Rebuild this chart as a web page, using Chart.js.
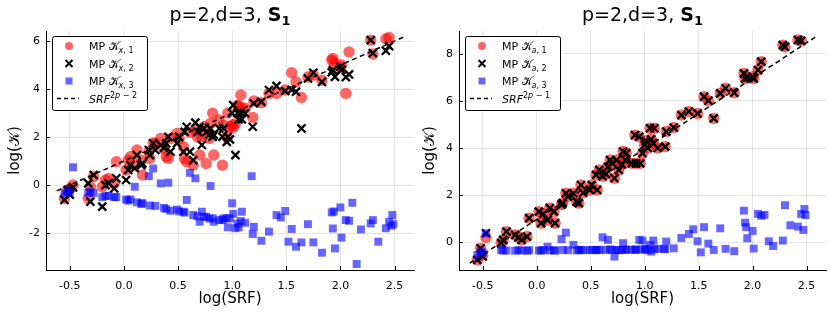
<!DOCTYPE html>
<html>
<head>
<meta charset="utf-8">
<script src="https://cdn.jsdelivr.net/npm/chart.js@4.4.1/dist/chart.umd.min.js"></script>
<style>
  body { margin: 0; background: #fff; }
  .panel { position: absolute; top: 0; width: 415px; height: 312px; }
</style>
</head>
<body>
<div class="panel" style="left:0"><canvas id="left" width="415" height="312"></canvas></div>
<div class="panel" style="left:415px"><canvas id="right" width="415" height="312"></canvas></div>
<script>
// log(SRF) of every sample, shared by both panels
const logSRF = [
  -0.55, -0.52, -0.50, -0.47, -0.33, -0.31, -0.28, -0.20, -0.17, -0.14,
  -0.09, -0.07, 0.02, 0.04, 0.06, 0.10, 0.12, 0.16, 0.17, 0.23,
  0.24, 0.27, 0.29, 0.34, 0.37, 0.39, 0.41, 0.43, 0.49, 0.51,
  0.55, 0.56, 0.58, 0.61, 0.64, 0.66, 0.68, 0.70, 0.72, 0.74,
  0.76, 0.79, 0.80, 0.82, 0.83, 0.88, 0.91, 0.92, 0.95, 0.96,
  0.98, 1.00, 1.01, 1.03, 1.05, 1.06, 1.08, 1.09, 1.12, 1.18,
  1.19, 1.20, 1.27, 1.34, 1.41, 1.45, 1.49, 1.52, 1.55, 1.59,
  1.64, 1.70, 1.75, 1.83, 1.92, 1.93, 1.94, 1.95, 2.00, 2.01,
  2.05, 2.08, 2.11, 2.15, 2.19, 2.28, 2.30, 2.35, 2.42, 2.45,
  2.47, 2.48, 2.49
];

// left panel: log(K_x,1), log(K_x,2), log(K_x,3)
const kx1 = [
  -0.55, -0.21, -0.14, 0.00, -0.55, -0.07, 0.35, -0.07, 0.21, 0.28,
  0.07, 0.97, 0.63, 1.04, 1.18, 0.83, 1.46, 1.04, 0.42, 1.39,
  1.11, 1.74, 1.74, 1.94, 1.50, 1.18, 1.11, 1.94, 2.15, 1.94,
  1.60, 1.10, 0.97, 2.20, 0.83, 2.29, 2.00, 1.25, 2.01, 2.43,
  0.90, 1.94, 2.57, 2.99, 1.25, 2.71, 0.83, 2.50, 2.00, 3.00,
  2.43, 2.50, 2.40, 2.56, 3.33, 3.29, 3.75, 3.20, 3.20, null,
  2.82, 3.51, 3.43, 3.82, 3.82, null, 3.96, null, 4.68, 4.30,
  3.65, 4.50, 4.58, 4.37, 5.20, 5.28, null, 5.07, 4.90, 5.00,
  3.82, 5.55, null, null, null, 6.04, 5.46, null, 6.10, 6.15,
  null, null, null
];
const kx2 = [
  -0.62, -0.21, -0.40, -0.10, 0.07, -0.69, 0.42, -0.90, 0.00, 0.07,
  -0.14, 0.28, 0.21, 0.63, 0.83, 0.70, 1.25, 0.83, 0.90, 1.46,
  1.25, 1.74, 1.46, 1.67, 1.55, 1.74, 2.01, 1.39, 1.74, 2.01,
  1.39, 2.22, 2.43, 1.39, 1.04, 2.60, 2.22, 2.43, 1.67, 2.36,
  2.20, 2.10, 2.36, 2.01, 2.10, 2.36, 2.01, 2.36, 1.80, 2.01,
  1.90, 3.00, 3.33, 1.25, 3.00, 2.74, 2.99, 2.74, 2.99, null,
  2.43, 3.40, 3.47, 3.96, 4.13, null, 3.92, null, 3.96, 3.89,
  2.36, 4.44, 4.68, 4.30, 4.70, 4.79, null, 4.51, 4.93, 4.80,
  4.50, 4.61, null, null, null, 6.04, 5.50, null, 5.60, 5.79,
  null, null, null
];
const kx3 = [
  -0.35, -0.24, -0.30, 0.74, -0.33, -0.28, -0.33, -0.50, -0.46, -0.45,
  -0.51, -0.50, -0.60, -0.65, -0.60, -0.07, -0.72, -0.79, -0.75, 0.37,
  -0.85, 0.69, -0.87, 0.07, -0.95, -1.00, 0.10, -1.07, -1.02, -1.10,
  -1.11, -1.15, -0.62, 0.51, -1.25, 0.28, -1.30, -1.53, -1.11, -1.33,
  -1.32, -1.40, -0.04, -1.38, -1.53, -1.46, -1.46, -1.39, -1.38, -1.76,
  -1.39, -0.76, -1.20, -1.80, -1.60, -1.76, -1.50, -1.11, -1.57, 0.37,
  -2.04, -1.74, -2.32, -1.94, -1.25, -1.35, -1.08, -2.36, -1.83, -2.57,
  -2.39, -1.63, -2.39, -2.82, -1.14, -1.81, -1.10, -2.64, -0.93, -2.19,
  -1.46, -1.49, -0.74, -3.29, -1.85, -1.60, -1.46, -2.36, -1.80, -1.53,
  -1.70, -1.25, -1.63
];

// right panel: log(K_a,1), log(K_a,2), log(K_a,3)
const ka1 = [
  -0.75, -0.26, -0.55, 0.20, -0.04, 0.10, 0.45, 0.31, 0.24, 0.10,
  0.24, 1.02, 1.30, 0.81, 1.20, 0.95, 1.45, 1.30, 0.81, 1.60,
  1.66, 2.08, 1.94, 2.08, 1.72, 1.66, 2.43, 2.10, 2.22, 2.43,
  2.86, 2.22, 3.07, 2.80, 2.90, 3.20, 3.49, 3.35, 2.72, 3.49,
  3.07, 3.30, 3.85, 3.50, 3.78, 3.35, 4.55, 3.35, 4.48, 3.35,
  3.78, 4.13, 4.30, 4.00, 4.84, 4.37, 4.20, 4.84, 4.00, null,
  4.06, 4.70, 4.87, 5.40, 5.55, null, 5.47, null, 6.18, 6.01,
  5.26, 6.32, 6.54, 6.35, 7.17, 6.95, null, 7.00, 7.03, 6.95,
  7.31, 7.67, null, null, null, 8.37, 8.30, null, 8.59, 8.55,
  null, null, null
];
const ka2 = [
  -0.75, -0.26, -0.60, 0.38, -0.04, 0.10, 0.45, 0.31, 0.20, 0.10,
  0.24, 1.02, 1.30, 0.81, 1.20, 0.95, 1.45, 1.30, 0.81, 1.60,
  1.66, 2.08, 1.94, 2.08, 1.72, 1.66, 2.43, 2.10, 2.22, 2.43,
  2.86, 2.22, 3.07, 2.80, 2.90, 3.20, 3.49, 3.35, 2.72, 3.49,
  3.07, 3.30, 3.85, 3.50, 3.78, 3.35, 4.55, 3.35, 4.48, 3.35,
  3.78, 4.13, 4.30, 4.00, 4.84, 4.37, 4.20, 4.84, 4.00, null,
  4.06, 4.70, 4.87, 5.40, 5.55, null, 5.47, null, 6.18, 6.01,
  5.26, 6.32, 6.54, 6.35, 7.17, 6.95, null, 7.00, 7.03, 6.95,
  7.31, 7.67, null, null, null, 8.37, 8.30, null, 8.59, 8.55,
  null, null, null
];
const ka3 = [
  -0.54, -0.40, -0.45, 0.38, -0.33, -0.36, -0.35, -0.36, -0.34, -0.35,
  -0.36, -0.34, -0.35, -0.36, -0.33, -0.19, -0.35, -0.34, -0.36, 0.13,
  -0.33, 0.41, -0.34, -0.11, -0.35, -0.33, -0.32, -0.34, -0.33, -0.33,
  -0.34, -0.32, -0.33, 0.21, -0.33, 0.10, -0.30, -0.33, -0.61, -0.33,
  -0.34, -0.32, -0.04, -0.33, -0.31, -0.32, -0.33, -0.30, 0.10, -0.32,
  0.07, -0.30, -0.28, -0.34, -0.11, -0.40, 0.07, -0.30, -0.28, -0.28,
  -0.30, 0.03, -0.26, 0.18, 0.35, 0.55, 0.04, -0.43, 0.64, -0.06,
  -0.33, 0.59, -0.28, -0.38, 1.34, 0.83, 0.64, 0.17, 0.48, -0.27,
  1.20, 1.12, 1.16, 0.04, -0.16, 0.07, 1.57, 0.72, 0.66, 1.20,
  0.52, 1.41, 1.15
];

// dashed reference lines SRF^(2p-2) and SRF^(2p-1)
const refX = [-0.62, 2.58];
const refLeftY = [-0.24, 6.16];
const refRightY = [-0.89, 8.71];

// axis ticks
const xTicks = [-0.5, 0, 0.5, 1, 1.5, 2, 2.5];
const yTicksLeft = [-2, 0, 2, 4, 6];
const yTicksRight = [0, 2, 4, 6, 8];

const FONT = "DejaVu Sans";
const KCAL = "\u{1D4A6}"; // script K

function pts(ys) {
  return logSRF.map((x, i) => ({ x: x, y: ys[i] }));
}

// draws text pieces one after another, returns total width
function drawPieces(ctx, pieces, x, y, measureOnly) {
  let w = 0;
  pieces.forEach((p) => {
    ctx.font = p.font;
    if (!measureOnly) ctx.fillText(p.t, x + w, y + (p.dy || 0));
    w += ctx.measureText(p.t).width;
  });
  return w;
}

const panelPlugin = {
  id: "panelDeco",
  afterDraw(chart) {
    const ctx = chart.ctx;
    const area = chart.chartArea;
    const deco = chart.options.plugins.panelDeco;
    const xs = chart.scales.x;
    const ys = chart.scales.y;
    ctx.save();

    // ticks pointing inside the plot
    ctx.strokeStyle = "#000";
    ctx.lineWidth = 1;
    ctx.beginPath();
    xTicks.forEach((v) => {
      const px = Math.round(xs.getPixelForValue(v)) + 0.5;
      ctx.moveTo(px, area.bottom);
      ctx.lineTo(px, area.bottom - 4);
    });
    deco.yTicks.forEach((v) => {
      const py = Math.round(ys.getPixelForValue(v)) + 0.5;
      ctx.moveTo(area.left, py);
      ctx.lineTo(area.left + 4, py);
    });
    ctx.stroke();

    // title
    ctx.fillStyle = "#000";
    ctx.textBaseline = "alphabetic";
    ctx.textAlign = "left";
    const title = [
      { t: "p=2,d=3, ", font: "19px " + FONT },
      { t: "S", font: "bold 19px " + FONT },
      { t: "1", font: "bold 13px " + FONT, dy: 4 },
    ];
    const tw = drawPieces(ctx, title, 0, 0, true);
    drawPieces(ctx, title, (area.left + area.right) / 2 - tw / 2, 21);

    // legend
    const bx = area.left + 6, by = 36, bw = 95, bh = 74;
    ctx.fillStyle = "#fff";
    ctx.beginPath();
    ctx.roundRect(bx + 0.5, by + 0.5, bw, bh, 2);
    ctx.fill();
    ctx.stroke();
    const mx = bx + 17, tx = bx + 37;
    const rowY = [by + 10, by + 27.5, by + 45, by + 62.5];

    ctx.fillStyle = "rgba(255,0,0,0.6)";
    ctx.beginPath();
    ctx.arc(mx, rowY[0], 4, 0, Math.PI * 2);
    ctx.fill();

    ctx.strokeStyle = "#000";
    ctx.lineWidth = 2;
    ctx.beginPath();
    ctx.moveTo(mx - 3.5, rowY[1] - 3.5);
    ctx.lineTo(mx + 3.5, rowY[1] + 3.5);
    ctx.moveTo(mx + 3.5, rowY[1] - 3.5);
    ctx.lineTo(mx - 3.5, rowY[1] + 3.5);
    ctx.stroke();

    ctx.fillStyle = "rgba(0,0,255,0.6)";
    ctx.fillRect(mx - 3.5, rowY[2] - 3.5, 7, 7);

    ctx.lineWidth = 1.5;
    ctx.setLineDash([4, 3]);
    ctx.beginPath();
    ctx.moveTo(bx + 5, rowY[3]);
    ctx.lineTo(bx + 27, rowY[3]);
    ctx.stroke();
    ctx.setLineDash([]);

    ctx.fillStyle = "#000";
    const base = 4;
    for (let i = 0; i < 3; i++) {
      drawPieces(ctx, [
        { t: "MP ", font: "11px " + FONT },
        { t: KCAL, font: "11px " + FONT },
        { t: deco.sub, font: "italic 8px " + FONT, dy: 3 },
        { t: ", " + (i + 1), font: "8px " + FONT, dy: 3 },
      ], tx, rowY[i] + base);
    }
    drawPieces(ctx, [
      { t: "SRF", font: "italic 11px " + FONT },
      { t: "2", font: "8px " + FONT, dy: -5 },
      { t: "p", font: "italic 8px " + FONT, dy: -5 },
      { t: " \u2212 " + deco.pow, font: "8px " + FONT, dy: -5 },
    ], tx, rowY[3] + base);

    ctx.restore();
  },
};

function makePanel(id, series, ref, yRange, yTicks, sub, pow, padRight, yWidth) {
  const tickFont = { family: FONT, size: 11 };
  new Chart(document.getElementById(id), {
    type: "scatter",
    data: {
      datasets: [
        {
          data: pts(series[0]),
          pointStyle: "circle",
          pointRadius: 5.7,
          pointHoverRadius: 5.7,
          backgroundColor: "rgba(255,0,0,0.6)",
          borderWidth: 0,
          order: 4,
        },
        {
          data: pts(series[1]),
          pointStyle: "crossRot",
          pointRadius: 5.7,
          pointHoverRadius: 5.7,
          borderColor: "#000",
          borderWidth: 2.3,
          order: 3,
        },
        {
          data: pts(series[2]),
          pointStyle: "rect",
          pointRadius: 5.6,
          pointHoverRadius: 5.6,
          backgroundColor: "rgba(0,0,255,0.6)",
          borderWidth: 0,
          order: 2,
        },
        {
          type: "line",
          data: refX.map((x, i) => ({ x: x, y: ref[i] })),
          borderColor: "#000",
          borderWidth: 1.5,
          borderDash: [5, 3.5],
          pointRadius: 0,
          fill: false,
          order: 1,
        },
      ],
    },
    options: {
      responsive: false,
      animation: false,
      events: [],
      layout: { autoPadding: false, padding: { top: 31, right: padRight, bottom: 0, left: 0 } },
      plugins: {
        legend: { display: false },
        tooltip: { enabled: false },
        panelDeco: { yTicks: yTicks, sub: sub, pow: pow },
      },
      scales: {
        x: {
          type: "linear",
          min: -0.72,
          max: 2.68,
          afterBuildTicks: (s) => { s.ticks = xTicks.map((v) => ({ value: v })); },
          afterFit: (s) => { s.height = 42; },
          ticks: { font: tickFont, color: "#000", padding: 10, callback: (v) => v.toFixed(1) },
          grid: { color: "rgba(0,0,0,0.1)", drawTicks: false },
          border: { display: true, color: "#000", width: 1 },
          title: { display: true, text: "log(SRF)", font: { family: FONT, size: 15 }, color: "#000", padding: { top: 0, bottom: 4 } },
        },
        y: {
          type: "linear",
          min: yRange[0],
          max: yRange[1],
          afterBuildTicks: (s) => { s.ticks = yTicks.map((v) => ({ value: v })); },
          afterFit: (s) => { s.width = yWidth; },
          ticks: { font: tickFont, color: "#000", padding: 6, callback: (v) => String(v) },
          grid: { color: "rgba(0,0,0,0.1)", drawTicks: false },
          border: { display: true, color: "#000", width: 1 },
          title: { display: true, text: "log(" + KCAL + ")", font: { family: FONT, size: 15 }, color: "#000", padding: { top: 6, bottom: 0 } },
        },
      },
    },
    plugins: [panelPlugin],
  });
}

makePanel("left", [kx1, kx2, kx3], refLeftY, [-3.54, 6.42], yTicksLeft, "x", "2", 1, 46);
makePanel("right", [ka1, ka2, ka3], refRightY, [-1.18, 8.97], yTicksRight, "a", "1", 4, 44);
</script>
</body>
</html>
